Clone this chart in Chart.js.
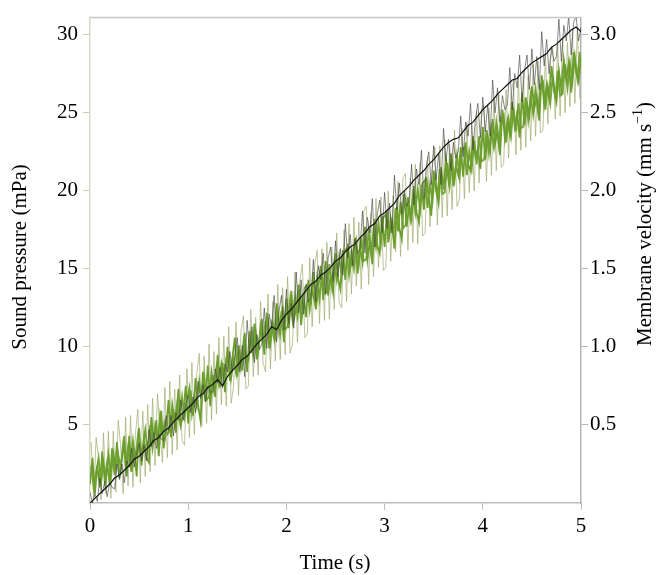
<!DOCTYPE html>
<html>
<head>
<meta charset="utf-8">
<script src="https://cdn.jsdelivr.net/npm/chart.js@4"></script>
<style>
  html, body { margin: 0; padding: 0; background: #fff; }
</style>
</head>
<body>
<canvas id="chart" width="658" height="575"></canvas>
<script>
// tick labels
const timeTicks = [0, 1, 2, 3, 4, 5];
const pressureTicks = [5, 10, 15, 20, 25, 30];
const velocityTicks = [0.5, 1.0, 1.5, 2.0, 2.5, 3.0];

// sound pressure (mPa), main trace, sampled every 0.025 s from 0 s
const pressureStep = 0.025;
const pressure = [
  1.2, 2.9, 0.6, 2.4, 1.0, 3.3, 1.4, 2.6,
  1.2, 3.5, 1.8, 3.9, 1.6, 2.8, 4.3, 1.7,
  4.3, 2.0, 3.5, 1.7, 4.8, 2.4, 4.1, 2.9,
  2.6, 5.5, 3.8, 5.3, 3.0, 5.9, 3.5, 4.7,
  6.6, 4.2, 6.0, 4.5, 7.3, 5.0, 5.7, 7.5,
  5.1, 7.2, 5.6, 8.0, 6.3, 5.3, 8.4, 6.5,
  8.8, 6.2, 8.2, 6.8, 9.5, 7.4, 9.0, 7.1,
  10.0, 7.8, 9.3, 10.6, 8.1, 9.7, 8.5, 10.9,
  8.4, 11.0, 9.6, 11.5, 9.2, 10.4, 11.8, 9.5,
  12.2, 9.9, 11.4, 10.5, 12.8, 11.0, 12.3, 10.3,
  13.1, 11.2, 13.6, 11.7, 12.5, 14.0, 11.4, 13.3,
  11.9, 14.3, 12.7, 14.8, 12.4, 13.8, 15.2, 13.0,
  15.5, 13.3, 14.6, 13.5, 16.0, 14.4, 13.7, 16.2,
  14.3, 16.6, 15.0, 15.8, 17.0, 14.7, 16.4, 15.4,
  17.7, 15.6, 16.8, 15.3, 18.2, 16.5, 16.0, 18.4,
  16.4, 18.7, 17.2, 18.0, 16.3, 19.0, 17.6, 16.9,
  19.8, 17.7, 19.1, 18.2, 20.3, 18.6, 18.0, 20.4,
  18.8, 20.9, 19.5, 18.4, 21.3, 20.0, 19.2, 21.5,
  20.1, 22.0, 20.7, 22.4, 20.3, 21.6, 21.0, 22.8,
  20.9, 23.1, 21.7, 21.3, 23.5, 22.2, 22.7, 21.4,
  24.1, 22.0, 23.5, 22.6, 24.6, 23.0, 23.9, 22.3,
  25.2, 23.3, 24.5, 23.6, 25.7, 24.1, 25.0, 23.4,
  26.3, 24.2, 25.6, 24.8, 26.7, 25.3, 26.0, 24.5,
  27.4, 25.5, 26.8, 25.9, 28.0, 26.4, 25.7, 27.7,
  26.5, 28.4, 27.1, 28.2, 26.3, 28.9, 27.6, 27.0,
  28.7
];

// sound pressure (mPa), interleaved samples, every 0.025 s from 0.0125 s
const midStart = 0.0125;
const pressureMid = [
  2.4, 1.0, 2.0, 2.9, 1.3, 2.6, 1.5, 3.1,
  1.7, 3.2, 2.2, 3.1, 2.3, 3.8, 2.5, 3.6,
  2.4, 4.0, 2.8, 4.3, 3.2, 3.6, 4.7, 3.3,
  5.0, 3.5, 4.9, 3.9, 5.6, 4.3, 5.2, 4.4,
  4.6, 6.3, 5.1, 6.4, 5.3, 6.8, 5.5, 6.6,
  7.4, 5.7, 6.9, 6.2, 7.8, 6.5, 8.1, 6.6,
  6.8, 8.4, 7.2, 8.7, 7.6, 8.9, 7.9, 9.3,
  9.6, 8.0, 9.2, 8.3, 10.1, 8.7, 10.3, 9.0,
  9.1, 10.7, 9.5, 11.0, 9.8, 11.3, 10.2, 11.6,
  11.8, 10.2, 11.5, 10.7, 12.3, 10.9, 12.6, 11.1,
  11.3, 13.0, 11.7, 13.2, 12.0, 13.6, 12.3, 13.8,
  14.0, 12.4, 13.7, 12.9, 14.5, 13.1, 14.8, 13.4,
  13.5, 15.3, 13.9, 15.4, 14.3, 15.8, 14.5, 16.1,
  16.3, 14.6, 16.0, 15.0, 16.7, 15.3, 17.0, 15.5,
  15.6, 17.4, 16.1, 17.5, 16.4, 17.9, 16.6, 18.3,
  18.5, 16.7, 18.2, 17.2, 18.9, 17.4, 19.3, 17.6,
  17.8, 19.6, 18.2, 19.7, 18.6, 20.1, 18.8, 20.5,
  20.7, 18.9, 20.4, 19.3, 21.1, 19.6, 21.4, 19.8,
  19.9, 21.8, 20.3, 21.9, 20.7, 22.3, 20.9, 22.6,
  22.8, 21.0, 22.5, 21.4, 23.2, 21.7, 23.5, 21.9,
  22.0, 23.9, 22.4, 24.0, 22.8, 24.4, 23.0, 24.7,
  24.9, 23.1, 24.6, 23.5, 25.3, 23.8, 25.6, 24.0,
  24.1, 26.0, 24.5, 26.1, 24.9, 26.5, 25.1, 26.8,
  27.0, 25.2, 26.7, 25.6, 27.4, 25.9, 27.7, 26.1,
  26.2, 28.1, 26.6, 28.2, 27.0, 28.6, 27.2, 28.9
];

// sound pressure (mPa), faint outer spikes, every 0.025 s from 0.0125 s
const pressureSpikes = [
  3.9, 0.3, 4.2, 2.9, 0.2, 4.5, 0.6, 4.6,
  0.3, 4.6, 0.7, 5.3, 3.6, 0.6, 5.5, 1.1,
  5.6, 1.0, 4.4, 6.0, 1.3, 5.9, 1.7, 6.3,
  2.0, 6.7, 2.4, 7.0, 4.6, 2.6, 7.4, 2.9,
  7.8, 3.1, 7.3, 3.4, 8.2, 4.0, 3.7, 8.6,
  4.2, 9.0, 4.4, 8.3, 9.6, 4.9, 9.4, 5.1,
  10.2, 5.3, 9.7, 5.7, 10.6, 6.3, 10.7, 6.2,
  11.3, 6.4, 7.5, 11.6, 6.9, 11.0, 12.0, 7.3,
  7.5, 12.4, 8.1, 11.9, 8.2, 12.9, 9.0, 8.4,
  13.4, 8.6, 12.9, 9.1, 14.0, 9.2, 13.8, 9.5,
  14.5, 9.6, 10.2, 14.8, 10.3, 14.3, 15.3, 10.6,
  10.8, 15.7, 11.3, 15.2, 16.2, 11.5, 16.3, 11.7,
  16.7, 11.8, 16.4, 12.4, 17.3, 12.8, 12.5, 17.5,
  12.9, 17.9, 13.4, 18.3, 13.9, 18.0, 13.7, 18.7,
  19.0, 14.0, 18.6, 14.5, 19.5, 15.1, 19.6, 14.9,
  15.1, 20.0, 15.5, 19.7, 16.1, 20.6, 15.8, 20.8,
  21.1, 16.2, 20.8, 16.7, 21.7, 16.6, 21.8, 17.1,
  17.3, 22.2, 17.7, 22.0, 22.8, 17.8, 22.9, 18.3,
  23.3, 18.4, 23.0, 18.8, 23.9, 19.0, 19.5, 24.0,
  19.5, 24.4, 19.9, 24.3, 20.0, 25.1, 20.5, 25.2,
  25.5, 20.6, 25.3, 21.0, 26.0, 21.3, 26.2, 21.5,
  21.7, 26.5, 22.1, 26.2, 27.1, 22.3, 27.3, 22.6,
  27.6, 22.8, 27.4, 23.2, 28.1, 23.5, 28.3, 23.7,
  23.9, 28.7, 24.3, 28.4, 29.2, 24.6, 29.4, 24.8,
  29.8, 25.0, 29.5, 25.4, 30.3, 25.6, 30.4, 25.9
];

// membrane velocity (mm/s), raw, every 0.025 s from 0 s
const rawStep = 0.025;
const velocityRaw = [
  0.07, 0.00, 0.06, 0.01, 0.16, 0.06, 0.14, 0.04, 0.13, 0.10,
  0.09, 0.25, 0.15, 0.25, 0.13, 0.27, 0.23, 0.35, 0.23, 0.32,
  0.38, 0.27, 0.37, 0.27, 0.47, 0.36, 0.45, 0.35, 0.44, 0.41,
  0.40, 0.56, 0.46, 0.56, 0.43, 0.58, 0.53, 0.66, 0.53, 0.63,
  0.69, 0.58, 0.68, 0.58, 0.78, 0.67, 0.76, 0.65, 0.75, 0.71,
  0.71, 0.86, 0.77, 0.87, 0.74, 0.89, 0.84, 0.97, 0.84, 0.94,
  1.06, 0.84, 1.01, 0.81, 1.17, 0.96, 1.13, 0.90, 1.08, 0.98,
  1.02, 1.25, 0.99, 1.21, 1.12, 1.33, 1.03, 1.23, 1.33, 1.11,
  1.37, 1.15, 1.28, 1.12, 1.48, 1.22, 1.43, 1.21, 1.40, 1.29,
  1.32, 1.56, 1.29, 1.52, 1.43, 1.60, 1.34, 1.57, 1.64, 1.42,
  1.68, 1.45, 1.63, 1.46, 1.79, 1.57, 1.72, 1.52, 1.69, 1.60,
  1.63, 1.87, 1.60, 1.83, 1.73, 1.95, 1.64, 1.85, 1.94, 1.73,
  1.99, 1.76, 1.92, 1.73, 2.10, 1.88, 2.05, 1.85, 2.00, 1.90,
  1.94, 2.17, 1.91, 2.14, 2.04, 2.26, 1.95, 2.16, 2.25, 2.04,
  2.29, 2.07, 2.24, 2.04, 2.40, 2.19, 2.33, 2.13, 2.31, 2.21,
  2.25, 2.48, 2.22, 2.44, 2.35, 2.56, 2.26, 2.46, 2.56, 2.34,
  2.60, 2.38, 2.55, 2.35, 2.71, 2.50, 2.66, 2.44, 2.61, 2.52,
  2.55, 2.79, 2.52, 2.75, 2.66, 2.87, 2.57, 2.77, 2.87, 2.65,
  2.91, 2.68, 2.86, 2.65, 3.02, 2.80, 2.97, 2.75, 2.92, 2.83,
  2.86, 3.10, 2.83, 3.06, 2.96, 3.12, 2.87, 3.08, 3.12, 2.96,
  3.05
];

// membrane velocity (mm/s), smoothed, every 0.05 s from 0 s
const smoothStep = 0.05;
const velocitySmooth = [
  0.00, 0.03, 0.06, 0.09, 0.12, 0.16, 0.18, 0.21, 0.24, 0.28,
  0.30, 0.33, 0.36, 0.40, 0.42, 0.46, 0.48, 0.52, 0.55, 0.58,
  0.61, 0.64, 0.68, 0.70, 0.74, 0.76, 0.79, 0.75, 0.81, 0.85,
  0.88, 0.92, 0.94, 0.98, 1.02, 1.05, 1.08, 1.13, 1.11, 1.17,
  1.21, 1.24, 1.28, 1.32, 1.36, 1.40, 1.42, 1.46, 1.48, 1.51,
  1.55, 1.57, 1.61, 1.64, 1.66, 1.70, 1.73, 1.77, 1.79, 1.84,
  1.86, 1.89, 1.92, 1.97, 2.00, 2.03, 2.07, 2.10, 2.13, 2.17,
  2.20, 2.24, 2.28, 2.31, 2.33, 2.34, 2.38, 2.42, 2.44, 2.48,
  2.52, 2.55, 2.58, 2.62, 2.65, 2.68, 2.71, 2.72, 2.76, 2.79,
  2.82, 2.84, 2.86, 2.88, 2.92, 2.94, 2.97, 3.00, 3.03, 3.05,
  3.02
];

function series(values, start, step) {
  return values.map((v, i) => ({ x: start + i * step, y: v }));
}

const serif = "'Liberation Serif', 'Times New Roman', serif";
const tickFont = { family: serif, size: 21 };

// titles and the top frame line
const extras = {
  id: 'extras',
  afterDraw(chart) {
    const ctx = chart.ctx;
    const area = chart.chartArea;
    ctx.save();
    ctx.strokeStyle = '#c8c8c8';
    ctx.lineWidth = 1.5;
    ctx.beginPath();
    ctx.moveTo(area.left, area.top);
    ctx.lineTo(area.right, area.top);
    ctx.stroke();

    ctx.fillStyle = '#000';
    ctx.font = '21px ' + serif;
    ctx.textAlign = 'center';
    ctx.textBaseline = 'middle';
    ctx.fillText('Time (s)', 335, 563);

    ctx.save();
    ctx.translate(20, 257);
    ctx.rotate(-Math.PI / 2);
    ctx.fillText('Sound pressure (mPa)', 0, 0);
    ctx.restore();

    // right title, read bottom to top, with a superscript -1
    ctx.save();
    ctx.translate(645, 224);
    ctx.rotate(-Math.PI / 2);
    const main = 'Membrane velocity (mm s';
    const sup = '\u22121';
    const close = ')';
    ctx.font = '21px ' + serif;
    const wMain = ctx.measureText(main).width;
    const wClose = ctx.measureText(close).width;
    ctx.font = '14px ' + serif;
    const wSup = ctx.measureText(sup).width;
    let x = -(wMain + wSup + wClose) / 2;
    ctx.textAlign = 'left';
    ctx.font = '21px ' + serif;
    ctx.fillText(main, x, 0);
    x += wMain;
    ctx.font = '14px ' + serif;
    ctx.fillText(sup, x, -7);
    x += wSup;
    ctx.font = '21px ' + serif;
    ctx.fillText(close, x, 0);
    ctx.restore();
    ctx.restore();
  }
};

new Chart(document.getElementById('chart'), {
  type: 'line',
  data: {
    datasets: [
      {
        label: 'Membrane velocity (smoothed)',
        data: series(velocitySmooth, 0, smoothStep),
        yAxisID: 'yv',
        borderColor: '#111',
        borderWidth: 1.2
      },
      {
        label: 'Membrane velocity',
        data: series(velocityRaw, 0, rawStep),
        yAxisID: 'yv',
        borderColor: 'rgba(60,60,60,0.6)',
        borderWidth: 1
      },
      {
        label: 'Sound pressure',
        data: series(pressure, 0, pressureStep),
        yAxisID: 'yp',
        borderColor: '#6c9e2e',
        borderWidth: 1.8
      },
      {
        label: 'Sound pressure (interleaved)',
        data: series(pressureMid, midStart, pressureStep),
        yAxisID: 'yp',
        borderColor: '#72a434',
        borderWidth: 1.8
      },
      {
        label: 'Sound pressure spikes',
        data: series(pressureSpikes, midStart, pressureStep),
        yAxisID: 'yp',
        borderColor: 'rgba(160,172,110,0.7)',
        borderWidth: 1
      }
    ]
  },
  options: {
    responsive: false,
    animation: false,
    layout: { padding: { top: 12, left: 0, right: 0, bottom: 0 } },
    elements: { point: { radius: 0 }, line: { tension: 0 } },
    plugins: { legend: { display: false }, tooltip: { enabled: false } },
    scales: {
      x: {
        type: 'linear',
        position: 'bottom',
        min: 0,
        max: 5,
        border: { color: '#bdbdbd', width: 1.5 },
        grid: { drawOnChartArea: false, color: '#bdbdbd', tickLength: 7 },
        ticks: { font: tickFont, color: '#000', padding: 4, maxRotation: 0 },
        afterBuildTicks: axis => { axis.ticks = timeTicks.map(v => ({ value: v })); },
        afterFit: s => { s.height = 72; }
      },
      yp: {
        type: 'linear',
        position: 'left',
        min: 0,
        max: 31.1,
        border: { color: '#d5d9bf', width: 1.5 },
        grid: { drawOnChartArea: false, color: '#c9cdb0', tickLength: 7 },
        ticks: { font: tickFont, color: '#000', padding: 5 },
        afterBuildTicks: axis => { axis.ticks = pressureTicks.map(v => ({ value: v })); },
        afterFit: s => { s.width = 90; }
      },
      yv: {
        type: 'linear',
        position: 'right',
        min: 0,
        max: 3.11,
        border: { color: '#b5b5b5', width: 1.5 },
        grid: { drawOnChartArea: false, color: '#b5b5b5', tickLength: 7 },
        ticks: {
          font: tickFont,
          color: '#000',
          padding: 2,
          callback: v => v.toFixed(1)
        },
        afterBuildTicks: axis => { axis.ticks = velocityTicks.map(v => ({ value: v })); },
        afterFit: s => { s.width = 77; }
      }
    }
  },
  plugins: [extras]
});
</script>
</body>
</html>
